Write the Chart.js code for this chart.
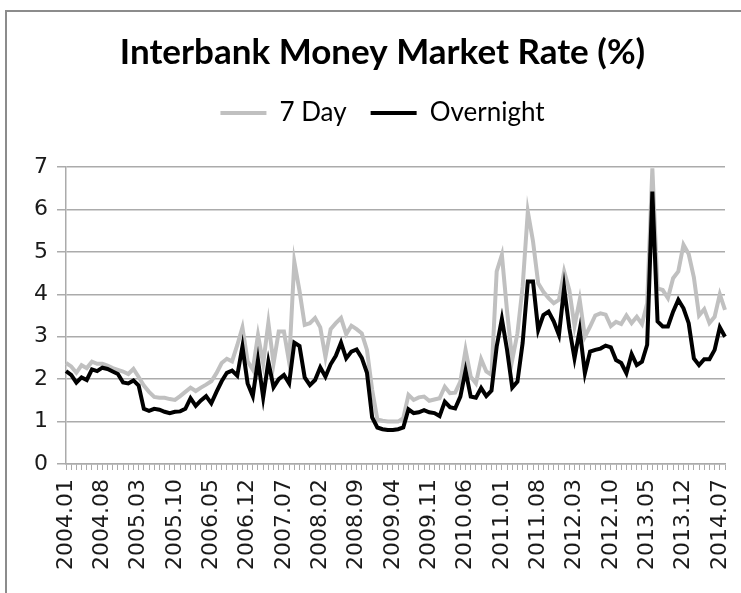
<!DOCTYPE html>
<html>
<head>
<meta charset="utf-8">
<title>Interbank Money Market Rate (%)</title>
<script src="https://cdn.jsdelivr.net/npm/chart.js@4.4.1/dist/chart.umd.min.js"></script>
<style>
  html, body { margin: 0; padding: 0; background: #fff; }
  #wrap { position: relative; width: 741px; height: 593px; overflow: hidden; }
  #frame { position: absolute; left: 5px; top: 10px; width: 900px; height: 700px;
           border-left: 2px solid #8c8c8c; border-top: 2px solid #8c8c8c; }
  canvas { position: absolute; left: 0; top: 0; }
</style>
</head>
<body>
<div id="wrap">
  <div id="frame"></div>
  <canvas id="rateChart" width="741" height="593"></canvas>
</div>
<script>
// monthly observations, 2004.01 .. 2014.08
const startYear = 2004;
const monthCount = 128;
const months = [];
for (let i = 0; i < monthCount; i++) {
    const y = startYear + Math.floor(i / 12);
    const m = (i % 12) + 1;
    months.push(y + '.' + (m < 10 ? '0' + m : m));
}

// 7 day rate (%)
const sevenDay = [
    2.38, 2.30, 2.15, 2.33, 2.26, 2.41, 2.36, 2.36, 2.32, 2.26,
    2.22, 2.18, 2.12, 2.24, 2.05, 1.85, 1.70, 1.58, 1.56, 1.56,
    1.53, 1.51, 1.60, 1.70, 1.80, 1.72, 1.80, 1.87, 1.95, 2.14,
    2.38, 2.48, 2.42, 2.80, 3.22, 2.42, 2.22, 3.04, 2.37, 3.33,
    2.37, 3.12, 3.12, 2.40, 4.77, 4.08, 3.28, 3.32, 3.44, 3.22,
    2.52, 3.18, 3.32, 3.44, 3.06, 3.26, 3.18, 3.08, 2.69, 1.75,
    1.05, 1.02, 1.00, 1.00, 1.00, 1.08, 1.63, 1.51, 1.57, 1.59,
    1.49, 1.52, 1.55, 1.82, 1.67, 1.68, 1.94, 2.69, 2.06, 1.90,
    2.47, 2.18, 2.10, 4.54, 4.93, 3.60, 2.45, 3.08, 4.18, 5.95,
    5.25, 4.26, 4.06, 3.91, 3.79, 3.87, 4.54, 4.10, 3.25, 3.87,
    3.00, 3.24, 3.50, 3.55, 3.52, 3.25, 3.35, 3.30, 3.50, 3.32,
    3.47, 3.30, 3.79, 6.97, 4.14, 4.10, 3.91, 4.38, 4.54, 5.17,
    4.95, 4.40, 3.50, 3.65, 3.32, 3.47, 4.00, 3.63
];

// overnight rate (%)
const overnight = [
    2.19, 2.10, 1.92, 2.04, 1.98, 2.23, 2.19, 2.27, 2.24, 2.18,
    2.12, 1.92, 1.90, 1.97, 1.85, 1.30, 1.25, 1.30, 1.28, 1.23,
    1.20, 1.23, 1.24, 1.30, 1.55, 1.37, 1.50, 1.60, 1.43, 1.70,
    1.95, 2.15, 2.20, 2.08, 2.77, 1.90, 1.60, 2.45, 1.57, 2.41,
    1.81, 2.00, 2.10, 1.90, 2.86, 2.78, 2.04, 1.86, 1.98, 2.28,
    2.06, 2.35, 2.55, 2.86, 2.49, 2.65, 2.70, 2.50, 2.15, 1.10,
    0.86, 0.82, 0.80, 0.80, 0.82, 0.86, 1.29, 1.20, 1.22, 1.27,
    1.22, 1.20, 1.13, 1.47, 1.34, 1.31, 1.59, 2.20, 1.59, 1.56,
    1.79, 1.60, 1.73, 2.77, 3.42, 2.69, 1.80, 1.94, 2.85, 4.30,
    4.30, 3.16, 3.51, 3.59, 3.36, 3.04, 4.15, 3.20, 2.49, 3.16,
    2.14, 2.65, 2.69, 2.72, 2.79, 2.75, 2.45, 2.38, 2.14, 2.59,
    2.33, 2.41, 2.81, 6.42, 3.36, 3.24, 3.24, 3.59, 3.87, 3.67,
    3.32, 2.49, 2.33, 2.47, 2.47, 2.69, 3.22, 3.00
];

const labelEvery = 7;
const padLeft = 24;
const gridGray = '#ababab';
const textColor = '#1a1a1a';

const ctx = document.getElementById('rateChart').getContext('2d');
const rateChart = new Chart(ctx, {
    type: 'line',
    data: {
        labels: months,
        datasets: [{
            label: '7 Day',
            data: sevenDay,
            borderColor: '#c0c0c0',
            backgroundColor: '#c0c0c0',
            borderWidth: 4,
            pointRadius: 0,
            tension: 0,
            order: 2
        }, {
            label: 'Overnight',
            data: overnight,
            borderColor: '#000000',
            backgroundColor: '#000000',
            borderWidth: 4,
            pointRadius: 0,
            tension: 0,
            order: 1 // drawn on top of the 7 day line
        }]
    },
    options: {
        responsive: false,
        animation: false,
        devicePixelRatio: 1,
        layout: { padding: { left: padLeft, right: 0, top: 0, bottom: 0 } },
        plugins: {
            title: {
                display: true,
                text: 'Interbank Money Market Rate (%)',
                color: '#000',
                font: { family: 'Lato', size: 35, weight: 'bold' },
                padding: { top: 32, bottom: 2 }
            },
            legend: {
                display: true,
                position: 'top',
                labels: {
                    color: '#000',
                    font: { family: 'Lato', size: 26 },
                    usePointStyle: true,
                    pointStyle: 'line',
                    pointStyleWidth: 46,
                    padding: 24,
                    sort: (a, b) => a.datasetIndex - b.datasetIndex
                }
            },
            // empty spacer between legend and plot
            subtitle: {
                display: true,
                text: '',
                weight: 500,
                font: { size: 10 },
                padding: { top: 19, bottom: 0 }
            },
            tooltip: { enabled: false }
        },
        scales: {
            x: {
                grid: { display: true, drawOnChartArea: false, drawTicks: true, tickLength: 6, tickColor: gridGray },
                border: { display: true, color: gridGray, width: 1.5 },
                ticks: {
                    autoSkip: false,
                    maxRotation: 90,
                    minRotation: 90,
                    padding: 9,
                    color: textColor,
                    font: { family: 'DejaVu Sans', size: 22 },
                    callback: function (value, index) {
                        return index % labelEvery === 0 ? this.getLabelForValue(value) : '';
                    }
                },
                afterFit: function (scale) {
                    scale.height = 129;
                    scale.paddingRight = 16;
                }
            },
            y: {
                min: 0,
                max: 7,
                grid: { color: gridGray, lineWidth: 1.5, tickLength: 9, tickColor: gridGray },
                border: { display: true, color: gridGray, width: 1.5 },
                ticks: {
                    stepSize: 1,
                    padding: 9,
                    color: textColor,
                    font: { family: 'DejaVu Sans', size: 22 }
                },
                afterFit: function (scale) {
                    scale.width = 66 - padLeft;
                }
            }
        }
    }
});
</script>
</body>
</html>
